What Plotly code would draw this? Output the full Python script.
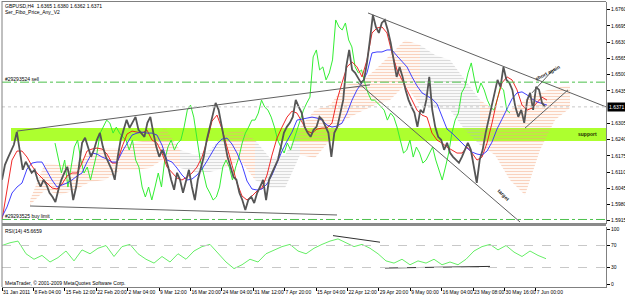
import plotly.graph_objects as go

W, H = 625, 296

# ---------------- data ----------------
price = [
    1.6079,1.6139,1.6167,1.6191,1.6219,1.6271,1.6187,1.6119,1.6151,1.6131,
    1.6107,1.6119,1.6079,1.6051,1.6079,1.6059,1.6027,1.6011,1.5990,1.6039,
    1.6079,1.6107,1.6131,1.6079,1.5998,1.6051,1.6131,1.6227,1.6247,1.6211,
    1.6171,1.6199,1.6239,1.6267,1.6211,1.6171,1.6147,1.6119,1.6079,1.6171,
    1.6239,1.6279,1.6319,1.6287,1.6307,1.6331,1.6279,1.6267,1.6251,1.6307,
    1.6331,1.6267,1.6211,1.6171,1.6199,
    1.6171,1.6131,1.6079,1.6039,1.6107,1.6079,1.6027,1.6079,1.6119,1.6051,
    1.5998,1.6079,1.6131,1.6171,1.6239,1.6291,1.6331,1.6387,1.6359,1.6291,
    1.6239,1.6171,1.6131,1.6091,1.6079,1.6027,1.5998,1.5958,1.5998,1.6011,
    1.5986,1.6027,1.6051,1.6079,1.5998,1.6079,1.6107,1.6131,1.6159,1.6211,
    1.6267,1.6291,1.6307,1.6331,1.6399,1.6371,1.6347,1.6291,1.6267,1.6251,
    1.6279,1.6291,
    1.6331,1.6319,1.6291,1.6267,1.6171,1.6267,1.6291,1.6347,1.6399,1.6531,
    1.6599,1.6519,1.6507,1.6487,1.6467,1.6479,1.6547,1.6639,1.6739,1.6691,
    1.6667,1.6707,1.6719,1.6679,1.6627,1.6559,1.6491,1.6531,1.6491,1.6439,
    1.6399,1.6371,1.6347,1.6291,1.6359,1.6347,1.6399,1.6491,1.6359,1.6291,
    1.6251,1.6239,1.6199,1.6227,1.6187,1.6171,1.6159,1.6147,1.6171,1.6199,
    1.6227,
    1.6199,1.6131,1.6067,1.6159,1.6199,1.6267,1.6319,1.6371,1.6427,1.6479,
    1.6451,1.6531,1.6479,1.6467,1.6439,1.6371,1.6331,1.6359,1.6307,1.6399,
    1.6427,1.6359,1.6451,1.6439,1.6387,1.6371,
]

tenkan_red = [
    1.5918,1.6038,1.6158,1.6194,1.6194,1.6170,1.6134,1.6106,1.6086,1.6066,
    1.6046,1.6042,1.6062,1.6094,1.6106,1.6106,1.6146,1.6194,1.6202,1.6206,
    1.6202,1.6182,1.6146,1.6146,1.6210,1.6262,1.6274,1.6270,1.6266,1.6278,
    1.6238,1.6226,1.6186,1.6130,1.6106,1.6086,1.6078,1.6090,1.6106,1.6130,
    1.6170,1.6234,1.6314,1.6338,1.6282,1.6210,1.6138,1.6066,1.6014,1.5998,
    1.6014,1.6034,1.6046,1.6098,1.6178,1.6246,1.6290,1.6330,1.6354,1.6346,
    1.6310,1.6274,1.6266,1.6282,1.6286,1.6286,1.6306,1.6398,1.6467,1.6531,
    1.6551,1.6531,1.6491,1.6559,1.6667,1.6687,1.6691,1.6667,1.6587,1.6519,
    1.6479,1.6439,1.6398,1.6358,1.6338,1.6330,1.6266,1.6238,1.6226,1.6210,
    1.6198,1.6186,1.6186,1.6210,1.6186,1.6158,1.6170,1.6226,1.6306,1.6398,
    1.6467,1.6491,1.6479,1.6439,1.6378,1.6358,1.6366,1.6386,1.6410,1.6398,
]

kijun_blue = [
    1.5930,1.5970,1.6026,1.6050,1.6066,1.6122,1.6146,1.6150,1.6150,1.6114,
    1.6078,1.6050,1.6058,1.6066,1.6078,1.6094,1.6106,1.6150,1.6186,1.6182,
    1.6170,1.6162,1.6150,1.6150,1.6190,1.6226,1.6258,1.6266,1.6270,1.6266,
    1.6266,1.6258,1.6218,1.6158,1.6150,1.6126,1.6098,1.6078,1.6082,1.6098,
    1.6122,1.6154,1.6190,1.6222,1.6242,1.6246,1.6222,1.6186,1.6138,1.6074,
    1.6042,1.6038,1.6042,1.6062,1.6098,1.6146,1.6194,1.6234,1.6270,1.6318,
    1.6322,1.6326,1.6330,1.6326,1.6318,1.6298,1.6290,1.6294,1.6306,1.6346,
    1.6398,1.6439,1.6467,1.6507,1.6587,1.6591,1.6591,1.6599,1.6599,1.6575,
    1.6555,1.6531,1.6491,1.6455,1.6427,1.6415,1.6403,1.6383,1.6330,1.6282,
    1.6266,1.6246,1.6222,1.6206,1.6190,1.6182,1.6178,1.6194,1.6230,1.6282,
    1.6322,1.6366,1.6403,1.6427,1.6431,1.6419,1.6403,1.6391,1.6383,1.6378,
]

lagging_green = [
    1.6226,1.6170,1.6106,1.6158,1.6050,1.6130,1.6210,1.6238,1.6158,1.6106,
    1.6130,1.6078,1.6130,1.6186,1.6266,1.6290,1.6318,1.6306,1.6266,1.6290,
    1.6266,1.6250,1.6238,1.6198,1.6238,1.6158,1.6130,1.6050,1.6010,1.6050,
    1.5998,1.6050,
    1.6106,1.6050,1.6158,1.6210,1.6238,1.6198,1.6226,1.6238,1.6290,1.6358,
    1.6378,1.6330,1.6238,1.6158,1.6106,1.6050,1.6026,1.5998,1.6010,1.6050,
    1.6130,1.6158,1.6130,1.6078,1.6130,1.6170,1.6226,1.6266,1.6290,1.6318,
    1.6318,1.6346,1.6398,1.6370,1.6358,1.6330,1.6290,1.6238,1.6210,1.6186,
    1.6226,1.6198,1.6238,1.6278,1.6318,1.6358,1.6386,1.6410,
    1.6571,1.6599,1.6519,1.6531,1.6479,1.6507,1.6559,1.6719,1.6691,1.6679,
    1.6707,1.6639,1.6611,1.6531,1.6507,1.6519,1.6467,1.6427,1.6398,1.6398,
    1.6386,1.6370,1.6358,1.6318,1.6346,1.6330,1.6290,1.6238,1.6186,1.6198,
    1.6238,1.6170,1.6210,1.6186,1.6146,1.6158,1.6186,1.6210,1.6158,1.6118,
    1.6078,1.6130,1.6186,1.6266,1.6318,1.6346,
    1.6427,1.6451,1.6507,1.6547,1.6479,1.6427,1.6467,1.6439,1.6398,1.6370,
    1.6358,1.6398,1.6451,1.6439,1.6358,1.6346,
]

cloud_top = [1.5998,1.6146,1.6138,1.6138,1.6190,1.6206,1.6206,1.6230,1.6238,1.6286,
             1.6198,1.6178,1.6198,1.6266,1.6278,1.6238,1.6166,1.6178,1.6290,1.6358,
             1.6378,1.6459,1.6471,1.6519,1.6579,1.6639,1.6619,1.6579,1.6559,1.6479,
             1.6398,1.6358,1.6358,1.6398,1.6430,1.6447,1.6459]
cloud_bot = [1.5978,1.6038,1.6018,1.6038,1.6070,1.6078,1.6118,1.6118,1.6126,1.6166,
             1.6126,1.6110,1.6110,1.6126,1.6158,1.6078,1.6046,1.6046,1.6178,1.6166,
             1.6238,1.6318,1.6350,1.6378,1.6398,1.6459,1.6378,1.6366,1.6358,1.6278,
             1.6218,1.6178,1.6078,1.6018,1.6198,1.6318,1.6366]
cloud_kind = "ssssssssssgggssgggssssssssggggsssssss"

rsi = [70,75,78,55,45,52,40,48,60,42,62,55,65,70,50,68,72,55,45,38,
       50,40,55,45,60,68,72,55,40,28,35,45,40,55,62,68,72,60,55,65,
       72,78,82,75,68,72,65,55,42,38,45,35,42,38,45,35,40,35,45,60,
       68,72,62,70,58,50,60,52,46]

date_labels = ["31 Jan 2011","8 Feb 04:00","15 Feb 12:00","22 Feb 20:00","2 Mar 04:00",
               "9 Mar 12:00","16 Mar 20:00","24 Mar 04:00","31 Mar 12:00","7 Apr 20:00",
               "15 Apr 04:00","22 Apr 12:00","29 Apr 20:00","9 May 00:00","16 May 04:00",
               "23 May 08:00","30 May 16:00","7 Jun 00:00"]
price_tick_labels = ["1.5915","1.5980","1.6045","1.6110","1.6175","1.6240","1.6305",
                     "1.6435","1.6500","1.6565","1.6630","1.6695","1.6760"]
rsi_tick_labels = ["0","30","70","100"]

last_price = 1.6371
sell_level = 1.6470
buy_limit_level = 1.5920
support_zone = (1.6234, 1.6286)

# trendlines: (bar, price) -> (bar, price)
trendlines = [
    ((15, 1.6274), (368, 1.6459)),
    ((366, 1.6747), (604, 1.6371)),
    ((355, 1.6471), (518, 1.5910)),
    ((28, 1.5974), (335, 1.5938)),
    ((523, 1.6286), (566, 1.6439)),
    ((530, 1.6427), (552, 1.6523)),
]
rsi_lines = [((331, 88.0), (378, 76.0)), ((383, 29.0), (488, 32.0))]

# ---------------- layout helpers ----------------
def ypaper(px):
    return 1 - px / H

def xpaper(px):
    return px / W

PRICE_STEP = 543 / (len(price) - 1)
LINE_STEP = 5
GREEN_START, GREEN_END = 53, 508
GREEN_STEP = (GREEN_END - GREEN_START) / (len(lagging_green) - 1)
CLOUD_START, CLOUD_STEP = 28, 15
RSI_STEP = 8
DATE_STEP = 31.4

fig = go.Figure()

salmon = "#f4a57e"
greyc = "#b8b8b8"
runs = []
start = 0
for i in range(1, len(cloud_kind) + 1):
    if i == len(cloud_kind) or cloud_kind[i] != cloud_kind[start]:
        runs.append((start, min(i, len(cloud_kind) - 1), cloud_kind[start]))
        start = i
for a, b, k in runs:
    xs = [CLOUD_START + CLOUD_STEP * j for j in range(a, b + 1)]
    top = cloud_top[a:b + 1]
    bot = cloud_bot[a:b + 1]
    fig.add_trace(go.Scatter(
        x=xs + xs[::-1], y=top + bot[::-1], fill="toself", mode="lines",
        line=dict(width=0), fillcolor="rgba(0,0,0,0)",
        fillpattern=dict(shape="-", fgcolor=salmon if k == "s" else greyc,
                         bgcolor="rgba(0,0,0,0)", size=3, solidity=0.45),
        xaxis="x", yaxis="y", hoverinfo="skip", showlegend=False))

fig.add_trace(go.Scatter(x=[GREEN_START + GREEN_STEP * i for i in range(len(lagging_green))],
                         y=lagging_green, mode="lines", line=dict(color="#33ee33", width=1),
                         xaxis="x", yaxis="y", showlegend=False))
fig.add_trace(go.Scatter(x=[LINE_STEP * i for i in range(len(tenkan_red))],
                         y=tenkan_red, mode="lines", line=dict(color="#ee1111", width=0.9),
                         xaxis="x", yaxis="y", showlegend=False))
fig.add_trace(go.Scatter(x=[LINE_STEP * i for i in range(len(kijun_blue))],
                         y=kijun_blue, mode="lines", line=dict(color="#2a2aff", width=0.9),
                         xaxis="x", yaxis="y", showlegend=False))
fig.add_trace(go.Scatter(x=[PRICE_STEP * i for i in range(len(price))],
                         y=price, mode="lines", line=dict(color="#555555", width=1.8),
                         xaxis="x", yaxis="y", showlegend=False))

for (x0, y0), (x1, y1) in trendlines:
    fig.add_trace(go.Scatter(x=[x0, x1], y=[y0, y1], mode="lines",
                             line=dict(color="#606060", width=1),
                             xaxis="x", yaxis="y", showlegend=False))

fig.add_trace(go.Scatter(x=[RSI_STEP * i for i in range(len(rsi))], y=rsi, mode="lines",
                         line=dict(color="#66ee66", width=1), xaxis="x2", yaxis="y2",
                         showlegend=False))
for (x0, y0), (x1, y1) in rsi_lines:
    fig.add_trace(go.Scatter(x=[x0, x1], y=[y0, y1], mode="lines",
                             line=dict(color="#303030", width=1),
                             xaxis="x2", yaxis="y2", showlegend=False))

P_TOP, P_BOT = 2, 224
R_TOP, R_BOT = 227, 287
def p_at(px):
    return 1.6799 - 0.0004005 * px

font_small = dict(family="Liberation Sans", size=5, color="#000000")

fig.update_layout(
    width=W, height=H, margin=dict(l=0, r=0, t=0, b=0, autoexpand=False),
    paper_bgcolor="white", plot_bgcolor="white",
    xaxis=dict(domain=[xpaper(2), xpaper(606)], range=[0, 604], visible=False, anchor="y",
               automargin=False),
    yaxis=dict(domain=[ypaper(P_BOT), ypaper(P_TOP)], range=[p_at(P_BOT), p_at(P_TOP)],
               side="right", showgrid=False, zeroline=False, anchor="x", automargin=False,
               tickvals=[float(t) for t in price_tick_labels], ticktext=price_tick_labels,
               ticks="outside", ticklen=3, tickcolor="#000", tickfont=font_small,
               showline=True, linecolor="#808080", linewidth=1),
    xaxis2=dict(domain=[xpaper(2), xpaper(606)], range=[0, 604], anchor="y2", automargin=False,
                tickvals=[DATE_STEP * i for i in range(len(date_labels))], ticktext=date_labels,
                tickangle=0, ticks="outside", ticklen=3, tickcolor="#000", tickfont=font_small,
                ticklabelposition="outside right", showgrid=False, zeroline=False,
                showline=True, linecolor="#808080"),
    yaxis2=dict(domain=[ypaper(R_BOT), ypaper(R_TOP)],
                range=[(284 - R_BOT) / 0.55, (284 - R_TOP) / 0.55], automargin=False,
                side="right", showgrid=False, zeroline=False, anchor="x2",
                tickvals=[float(t) for t in rsi_tick_labels], ticktext=rsi_tick_labels,
                ticks="outside", ticklen=3, tickcolor="#000", tickfont=font_small,
                showline=True, linecolor="#808080"),
)

shapes = []
shapes.append(dict(type="rect", xref="x", yref="y", x0=9, x1=604, y0=support_zone[0],
                   y1=support_zone[1], fillcolor="#adff2f", line=dict(width=0), layer="below"))
for lv in (sell_level, buy_limit_level):
    shapes.append(dict(type="line", xref="x", yref="y", x0=0, x1=604, y0=lv, y1=lv,
                       line=dict(color="#4cc04c", width=1, dash="dashdot")))
shapes.append(dict(type="line", xref="x", yref="y", x0=0, x1=604, y0=last_price, y1=last_price,
                   line=dict(color="#c8c8c8", width=1, dash="dot")))
for lv in (30, 70):
    shapes.append(dict(type="line", xref="x2", yref="y2", x0=0, x1=604, y0=lv, y1=lv,
                       line=dict(color="#c8c8c8", width=1, dash="dash")))
shapes.append(dict(type="line", xref="paper", yref="paper", x0=xpaper(2), x1=xpaper(2),
                   y0=ypaper(287), y1=ypaper(1), line=dict(color="#808080", width=1)))
shapes.append(dict(type="line", xref="paper", yref="paper", x0=xpaper(2), x1=xpaper(606),
                   y0=ypaper(1.5), y1=ypaper(1.5), line=dict(color="#808080", width=1)))
shapes.append(dict(type="rect", xref="paper", yref="paper", x0=xpaper(2), x1=xpaper(606),
                   y0=ypaper(226), y1=ypaper(223), fillcolor="#8a8a8a", line=dict(width=0)))
fig.update_layout(shapes=shapes)

ann = []
def txt(x, y, s, **kw):
    d = dict(xref="paper", yref="paper", x=xpaper(x), y=ypaper(y), text=s, showarrow=False,
             xanchor="left", yanchor="middle", font=font_small)
    d.update(kw)
    ann.append(d)

txt(3, 6, "GBPUSD,H4  1.6365 1.6380 1.6362 1.6371")
txt(3, 12, "Ser_Fibo_Price_Any_V2")
txt(3, 79, "#29293524 sell")
txt(3, 216, "#29293525 buy limit")
txt(3, 231, "RSI(14) 45.6659")
txt(3, 283, "MetaTrader, © 2001-2009 MetaQuotes Software Corp.")
ann.append(dict(xref="paper", yref="y", x=xpaper(607), y=last_price, text="1.6371",
                showarrow=False, xanchor="left", yanchor="middle",
                font=dict(family="Liberation Sans", size=5, color="white"),
                bgcolor="black", borderpad=1))
ann.append(dict(xref="x", yref="y", x=585, y=1.6262, text="<b>support</b>", showarrow=False,
                font=dict(family="Liberation Sans", size=5, color="#203000")))
ann.append(dict(xref="x", yref="y", x=545, y=1.6508, text="<b>short again</b>", showarrow=False,
                textangle=-28, font=dict(family="Liberation Sans", size=5, color="#202020")))
ann.append(dict(xref="x", yref="y", x=502, y=1.6020, text="<b>target</b>", showarrow=False,
                textangle=45, font=dict(family="Liberation Sans", size=5, color="#202020")))
fig.update_layout(annotations=ann)

fig.write_html("out.html")
